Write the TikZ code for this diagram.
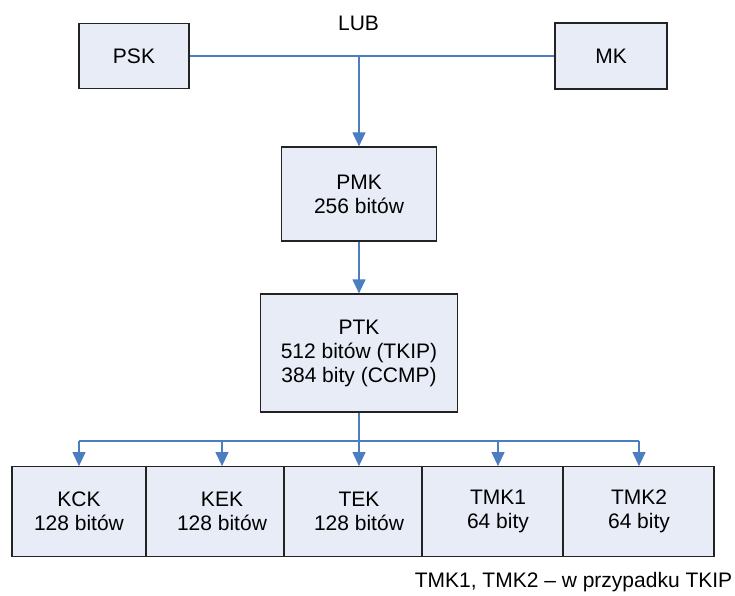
\documentclass[tikz,border=0pt]{standalone}
\usepackage{fontspec}
\setmainfont{Liberation Sans}
\usetikzlibrary{arrows.meta}
\definecolor{boxfill}{RGB}{231,236,247}
\definecolor{boxline}{RGB}{35,35,35}
\definecolor{linkblue}{RGB}{74,126,193}

\begin{document}
\begin{tikzpicture}[x=1pt,y=-1pt,
  txt/.style={font=\fontsize{21}{24}\selectfont, align=center, inner sep=0pt},
  keybox/.style={txt, draw=boxline, fill=boxfill, line width=1.2pt},
  link/.style={draw=linkblue, line width=1.2pt},
  tip/.style={link, -{Triangle[length=14pt,width=13pt]}}]
\useasboundingbox (0,0) rectangle (735,596);

% source keys
\node[keybox, minimum width=110pt, minimum height=65pt] (psk) at (134,56) {PSK};
\node[keybox, minimum width=112pt, minimum height=66pt] (mk) at (611,56) {MK};
\node[txt, anchor=base] (lub) at (358.5,31) {LUB};

% pairwise keys
\node[keybox, minimum width=155pt, minimum height=94pt] (pmk) at (359,194) {PMK\\256 bitów};
\node[keybox, minimum width=197pt, minimum height=118pt] (ptk) at (359,353) {PTK\\512 bitów (TKIP)\\384 bity (CCMP)};

% derived keys: boxes side by side, captions on the arrow axes
\node[keybox, minimum width=134pt, minimum height=90pt] (kck) at (79,511.7) {};
\node[keybox, minimum width=138pt, minimum height=90pt] (kek) at (215,511.7) {};
\node[keybox, minimum width=138pt, minimum height=90pt] (tek) at (353,511.7) {};
\node[keybox, minimum width=141pt, minimum height=90pt] (tmka) at (492.5,511.7) {};
\node[keybox, minimum width=151pt, minimum height=90pt] (tmkb) at (638.5,511.7) {};
\node[txt] (kcktxt) at (79,511.7) {KCK\\128 bitów};
\node[txt] (kektxt) at (222,511.7) {KEK\\128 bitów};
\node[txt] (tektxt) at (359,511.7) {TEK\\128 bitów};
\node[txt] (tmkatxt) at (498,511.7) {TMK1\\64 bity};
\node[txt] (tmkbtxt) at (639,511.7) {TMK2\\64 bity};

\node[txt, anchor=base] (note) at (573.5,587) {TMK1, TMK2 – w przypadku TKIP};

% connectors
\coordinate (join) at (359,56);
\coordinate (fork) at (359,441);
\draw[link] (psk.east) -- (mk.west);
\draw[tip] (join) -- (join |- pmk.north);
\draw[tip] (pmk.south) -- (ptk.north);
\draw[link] (ptk.south) -- (fork);
\draw[link] (kcktxt |- fork) -- (tmkbtxt |- fork);
\foreach \t/\b in {kcktxt/kck, kektxt/kek, tektxt/tek, tmkatxt/tmka, tmkbtxt/tmkb}
  \draw[tip] (\t |- fork) -- (\t |- \b.north);
\end{tikzpicture}
\end{document}
